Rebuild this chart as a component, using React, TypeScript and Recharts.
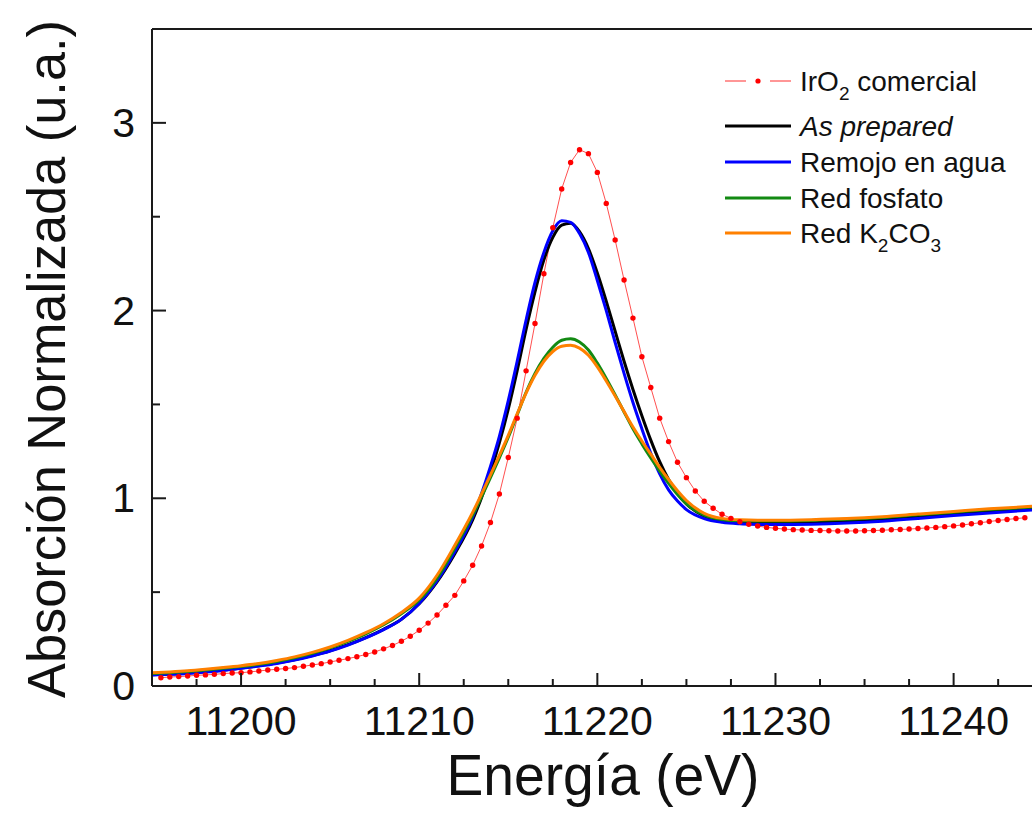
import { LineChart, Line, XAxis, YAxis, ReferenceLine, Legend } from 'recharts';

const FONT = '"Liberation Sans", Arial, Helvetica, sans-serif';

// IrO2 commercial reference, sampled every 0.5 eV (dotted trace)
const IRO2_E = [
  11195.5, 11196, 11196.5, 11197, 11197.5, 11198, 11198.5, 11199, 11199.5, 11200,
  11200.5, 11201, 11201.5, 11202, 11202.5, 11203, 11203.5, 11204, 11204.5, 11205,
  11205.5, 11206, 11206.5, 11207, 11207.5, 11208, 11208.5, 11209, 11209.5, 11210,
  11210.5, 11211, 11211.5, 11212, 11212.5, 11213, 11213.5, 11214, 11214.5, 11215,
  11215.5, 11216, 11216.5, 11217, 11217.5, 11218, 11218.5, 11219, 11219.5, 11220,
  11220.5, 11221, 11221.5, 11222, 11222.5, 11223, 11223.5, 11224, 11224.5, 11225,
  11225.5, 11226, 11226.5, 11227, 11227.5, 11228, 11228.5, 11229, 11229.5, 11230,
  11230.5, 11231, 11231.5, 11232, 11232.5, 11233, 11233.5, 11234, 11234.5, 11235,
  11235.5, 11236, 11236.5, 11237, 11237.5, 11238, 11238.5, 11239, 11239.5, 11240,
  11240.5, 11241, 11241.5, 11242, 11242.5, 11243, 11243.5, 11244,
];
const IRO2_V = [
  0.044, 0.048, 0.05, 0.053, 0.057, 0.059, 0.062, 0.066, 0.069, 0.071,
  0.075, 0.08, 0.085, 0.089, 0.093, 0.098, 0.105, 0.112, 0.119, 0.128,
  0.137, 0.146, 0.156, 0.168, 0.181, 0.198, 0.216, 0.238, 0.265, 0.297,
  0.335, 0.378, 0.43, 0.483, 0.56, 0.643, 0.746, 0.871, 1.023, 1.217,
  1.427, 1.679, 1.931, 2.196, 2.441, 2.648, 2.789, 2.857, 2.836, 2.736,
  2.571, 2.376, 2.163, 1.96, 1.754, 1.59, 1.427, 1.302, 1.192, 1.11,
  1.039, 0.984, 0.947, 0.915, 0.893, 0.875, 0.862, 0.852, 0.845, 0.84,
  0.836, 0.833, 0.831, 0.829, 0.828, 0.827, 0.826, 0.826, 0.826, 0.827,
  0.828, 0.83, 0.832, 0.834, 0.836, 0.839, 0.842, 0.845, 0.849, 0.853,
  0.858, 0.864, 0.87, 0.876, 0.882, 0.887, 0.892, 0.896,
];

// energies shared by the four sample traces
const SAMPLE_E = [
  11195, 11196, 11197, 11198, 11199, 11200, 11201, 11202, 11203, 11204,
  11205, 11206, 11207, 11208, 11209, 11210, 11211, 11212, 11213, 11214,
  11214.5, 11215, 11215.5, 11216, 11216.5, 11217, 11217.5, 11218, 11218.5, 11219,
  11219.5, 11220, 11220.5, 11221, 11221.5, 11222, 11222.5, 11223, 11223.5, 11224,
  11224.5, 11225, 11226, 11227, 11228, 11229, 11230, 11232, 11234, 11236,
  11238, 11240, 11242, 11244.4,
];
const AS_PREPARED = [
  0.06, 0.064, 0.069, 0.076, 0.085, 0.096, 0.108, 0.122, 0.14, 0.162,
  0.188, 0.22, 0.258, 0.302, 0.356, 0.438, 0.555, 0.705, 0.885, 1.14,
  1.295, 1.475, 1.68, 1.9, 2.1, 2.27, 2.39, 2.455, 2.465, 2.42,
  2.33, 2.2, 2.05, 1.89, 1.73, 1.58, 1.44, 1.31, 1.195, 1.1,
  1.025, 0.97, 0.905, 0.879, 0.87, 0.867, 0.866, 0.869, 0.876, 0.886,
  0.9, 0.915, 0.93, 0.945,
];
const REMOJO = [
  0.058, 0.062, 0.067, 0.074, 0.083, 0.094, 0.106, 0.12, 0.138, 0.16,
  0.186, 0.218, 0.256, 0.3, 0.355, 0.44, 0.56, 0.715, 0.9, 1.17,
  1.33, 1.52, 1.73, 1.95, 2.15, 2.31, 2.425, 2.478, 2.47, 2.41,
  2.31, 2.16, 2.0, 1.83, 1.665, 1.51, 1.37, 1.24, 1.13, 1.045,
  0.985, 0.94, 0.892, 0.872, 0.864, 0.861, 0.86, 0.862, 0.868, 0.878,
  0.892, 0.908, 0.922, 0.938,
];
const FOSFATO = [
  0.066, 0.071, 0.077, 0.085, 0.094, 0.104, 0.116, 0.131, 0.15, 0.174,
  0.203, 0.238, 0.278, 0.326, 0.385, 0.458, 0.575, 0.735, 0.91, 1.11,
  1.215, 1.325, 1.445, 1.565, 1.665, 1.745, 1.805, 1.842, 1.85, 1.833,
  1.79, 1.72, 1.638, 1.55, 1.46, 1.37, 1.29, 1.215, 1.145, 1.08,
  1.02, 0.97, 0.91, 0.887, 0.88, 0.879, 0.879, 0.882, 0.888, 0.898,
  0.912, 0.926, 0.94, 0.953,
];
const K2CO3 = [
  0.07, 0.075, 0.081, 0.089, 0.098, 0.108, 0.12, 0.136, 0.155, 0.179,
  0.208, 0.243, 0.284, 0.332, 0.392, 0.468, 0.59, 0.75, 0.925, 1.125,
  1.228, 1.335, 1.45, 1.56, 1.655, 1.73, 1.782, 1.81, 1.815, 1.8,
  1.762, 1.7, 1.625, 1.545, 1.462, 1.38, 1.305, 1.235, 1.165, 1.1,
  1.04, 0.988, 0.92, 0.893, 0.885, 0.883, 0.883, 0.886, 0.892, 0.902,
  0.916, 0.93, 0.944, 0.957,
];

const X_TICKS = [11197.5, 11200, 11202.5, 11205, 11207.5, 11210, 11212.5, 11215, 11217.5, 11220,
  11222.5, 11225, 11227.5, 11230, 11232.5, 11235, 11237.5, 11240, 11242.5];
const X_MAJOR = [11200, 11210, 11220, 11230, 11240];
const Y_TICKS = [0, 0.5, 1, 1.5, 2, 2.5, 3];
const Y_MAJOR = [0, 1, 2, 3];

const COLORS = { iro2: '#ff0000', asPrep: '#000000', remojo: '#0000ff', fosfato: '#138a13', k2co3: '#ff8000' };

const toPoints = (xs: number[], ys: number[]) => xs.map((e, i) => ({ e, v: ys[i] }));

const iro2Data = toPoints(IRO2_E, IRO2_V);
const asPrepData = toPoints(SAMPLE_E, AS_PREPARED);
const remojoData = toPoints(SAMPLE_E, REMOJO);
const fosfatoData = toPoints(SAMPLE_E, FOSFATO);
const k2co3Data = toPoints(SAMPLE_E, K2CO3);

const AXIS = '#1a1a1a';

function renderXTick(props: any) {
  const { x, y, payload } = props;
  const major = X_MAJOR.includes(payload.value);
  return (
    <g>
      <line x1={x} x2={x} y1={y} y2={y - (major ? 13 : 7)} stroke={AXIS} strokeWidth={2} />
      {major && (
        <text x={x} y={y + 49} textAnchor="middle" fontSize={41} fontFamily={FONT} fill="#111">
          {payload.value}
        </text>
      )}
    </g>
  );
}

function renderYTick(props: any) {
  const { x, y, payload } = props;
  const major = Y_MAJOR.includes(payload.value);
  return (
    <g>
      <line x1={x} x2={x + (major ? 14 : 8)} y1={y} y2={y} stroke={AXIS} strokeWidth={2} />
      {major && (
        <text x={x - 17} y={y + 14} textAnchor="end" fontSize={41} fontFamily={FONT} fill="#111">
          {payload.value}
        </text>
      )}
    </g>
  );
}

const xTitle = () => (
  <text x={603} y={795} textAnchor="middle" fontSize={58} fontFamily={FONT} fill="#111"
    textLength={313} lengthAdjust="spacingAndGlyphs">
    Energía (eV)
  </text>
);

const yTitle = () => (
  <text transform="translate(65 359) rotate(-90)" x={0} y={0} textAnchor="middle" fontSize={53}
    fontFamily={FONT} fill="#111" textLength={678} lengthAdjust="spacingAndGlyphs">
    Absorción Normalizada (u.a.)
  </text>
);

// legend rows, y in legend box coordinates
const ROWS = [
  { key: 'asPrep', y: 76, color: COLORS.asPrep },
  { key: 'remojo', y: 112, color: COLORS.remojo },
  { key: 'fosfato', y: 148, color: COLORS.fosfato },
  { key: 'k2co3', y: 183, color: COLORS.k2co3 },
];

function renderLegend() {
  const tx = 88;
  const fs = 28;
  return (
    <svg width={320} height={220} style={{ display: 'block', fontFamily: FONT }}>
      <line x1={13} x2={34} y1={31} y2={31} stroke="#ff5050" strokeWidth={1.2} />
      <circle cx={46} cy={31} r={2.6} fill={COLORS.iro2} />
      <line x1={58} x2={79} y1={31} y2={31} stroke="#ff5050" strokeWidth={1.2} />
      <text x={tx} y={41} fontSize={fs} fill="#111">
        IrO<tspan dy={9} fontSize={19}>2</tspan><tspan dy={-9}> comercial</tspan>
      </text>
      {ROWS.map((r) => (
        <line key={r.key} x1={13} x2={79} y1={r.y} y2={r.y} stroke={r.color} strokeWidth={3} />
      ))}
      <text x={tx} y={86} fontSize={fs} fontStyle="italic" fill="#111">As prepared</text>
      <text x={tx} y={122} fontSize={fs} fill="#111">Remojo en agua</text>
      <text x={tx} y={158} fontSize={fs} fill="#111">Red fosfato</text>
      <text x={tx} y={193} fontSize={fs} fill="#111">
        Red K<tspan dy={9} fontSize={19}>2</tspan><tspan dy={-9}>CO</tspan><tspan dy={9} fontSize={19}>3</tspan>
      </text>
    </svg>
  );
}

export default function App() {
  return (
    <div style={{ position: 'absolute', left: 0, top: 0, width: 1032, height: 823, background: '#fff' }}>
      <LineChart width={1032} height={823} margin={{ top: 29, right: 0, bottom: 0, left: 0 }}>
        <XAxis
          type="number"
          dataKey="e"
          domain={[11195, 11244.4]}
          allowDataOverflow
          ticks={X_TICKS}
          interval={0}
          height={137}
          tickLine={false}
          tickSize={0}
          tickMargin={0}
          tick={renderXTick}
          axisLine={{ stroke: AXIS, strokeWidth: 2 }}
          label={xTitle}
        />
        <YAxis
          type="number"
          domain={[0, 3.5]}
          allowDataOverflow
          ticks={Y_TICKS}
          interval={0}
          width={152}
          tickLine={false}
          tickSize={0}
          tickMargin={0}
          tick={renderYTick}
          axisLine={{ stroke: AXIS, strokeWidth: 2 }}
          label={yTitle}
        />
        <ReferenceLine y={3.5} stroke={AXIS} strokeWidth={2} />
        <Line data={iro2Data} dataKey="v" type="linear" stroke="#ff5050" strokeWidth={1}
          dot={{ r: 2.7, fill: COLORS.iro2, stroke: 'none' }} activeDot={false} isAnimationActive={false} />
        <Line data={asPrepData} dataKey="v" type="monotone" stroke={COLORS.asPrep} strokeWidth={3}
          dot={false} activeDot={false} isAnimationActive={false} />
        <Line data={remojoData} dataKey="v" type="monotone" stroke={COLORS.remojo} strokeWidth={3}
          dot={false} activeDot={false} isAnimationActive={false} />
        <Line data={fosfatoData} dataKey="v" type="monotone" stroke={COLORS.fosfato} strokeWidth={3}
          dot={false} activeDot={false} isAnimationActive={false} />
        <Line data={k2co3Data} dataKey="v" type="monotone" stroke={COLORS.k2co3} strokeWidth={3}
          dot={false} activeDot={false} isAnimationActive={false} />
        <Legend
          layout="vertical"
          align="center"
          verticalAlign="middle"
          content={renderLegend}
          wrapperStyle={{ left: 712, top: 50, width: 320, height: 220 }}
        />
      </LineChart>
    </div>
  );
}
